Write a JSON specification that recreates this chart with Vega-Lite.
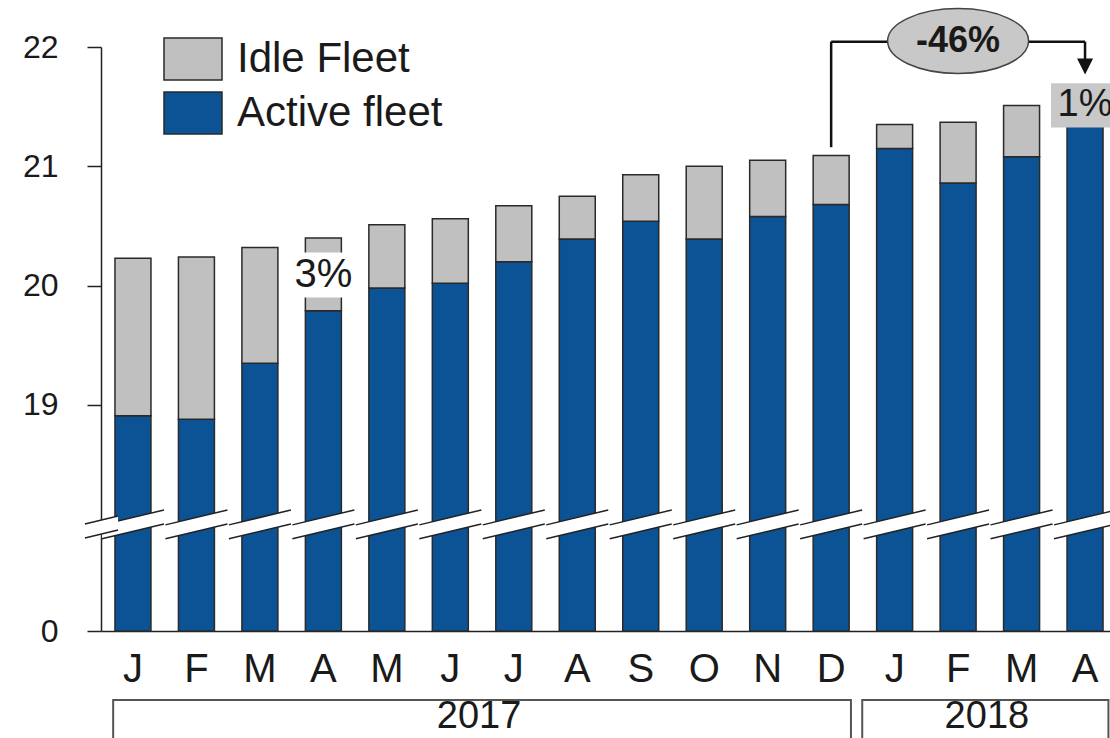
{
  "$schema": "https://vega.github.io/schema/vega-lite/v6.json",
  "autosize": {"type": "none"},
  "width": 1009,
  "height": 584,
  "padding": {"left": 101, "top": 47, "right": 0, "bottom": 107},
  "background": "white",
  "config": {
    "view": {"stroke": null},
    "font": "Liberation Sans",
    "axis": {"grid": false}
  },
  "datasets": {
    "fleet": [
      {"key": "2017-01", "active": 18.91, "total": 20.23},
      {"key": "2017-02", "active": 18.88, "total": 20.24},
      {"key": "2017-03", "active": 19.35, "total": 20.32},
      {"key": "2017-04", "active": 19.79, "total": 20.40},
      {"key": "2017-05", "active": 19.98, "total": 20.51},
      {"key": "2017-06", "active": 20.02, "total": 20.56},
      {"key": "2017-07", "active": 20.20, "total": 20.67},
      {"key": "2017-08", "active": 20.39, "total": 20.75},
      {"key": "2017-09", "active": 20.54, "total": 20.93},
      {"key": "2017-10", "active": 20.39, "total": 21.00},
      {"key": "2017-11", "active": 20.58, "total": 21.05},
      {"key": "2017-12", "active": 20.68, "total": 21.09},
      {"key": "2018-01", "active": 21.15, "total": 21.35},
      {"key": "2018-02", "active": 20.86, "total": 21.37},
      {"key": "2018-03", "active": 21.08, "total": 21.51},
      {"key": "2018-04", "active": 21.34, "total": 21.37}
    ],
    "years": [
      {"year": "2017", "start": "2017-01", "end": "2017-12", "mid": "2017-06"},
      {"year": "2018", "start": "2018-01", "end": "2018-04", "mid": "2018-02"}
    ],
    "note": [{"note": "annotation"}]
  },
  "layer": [
    {
      "data": {"name": "fleet"},
      "mark": {"type": "bar", "stroke": "#2a2a2a", "strokeWidth": 1.5},
      "encoding": {
        "x": {
          "field": "key", "type": "ordinal", "title": null,
          "scale": {
            "domain": ["2017-01","2017-02","2017-03","2017-04","2017-05","2017-06","2017-07","2017-08","2017-09","2017-10","2017-11","2017-12","2018-01","2018-02","2018-03","2018-04"],
            "range": [0, 1016], "paddingInner": 0.433, "paddingOuter": 0.22
          },
          "axis": {
            "title": null, "ticks": false, "tickSize": 0, "labelAngle": 0,
            "labelFontSize": 40, "labelPadding": 18, "labelColor": "#1a1a1a",
            "domainColor": "#222", "domainWidth": 1.5,
            "labelExpr": "['J','F','M','A','M','J','J','A','S','O','N','D'][toNumber(slice(datum.value, 5)) - 1]"
          }
        },
        "y": {
          "field": "active", "type": "quantitative", "title": null,
          "scale": {"domain": [0, 18, 22], "range": [584, 477.3, 0], "nice": false, "zero": false},
          "axis": {
            "title": null, "values": [0, 19, 20, 21, 22], "format": "d",
            "labelFontSize": 32, "labelPadding": 29, "labelColor": "#1a1a1a",
            "tickSize": 14, "tickColor": "#222", "tickWidth": 1.5,
            "domainColor": "#222", "domainWidth": 1.5
          }
        },
        "y2": {"datum": 0},
        "color": {
          "datum": "Active fleet",
          "scale": {"domain": ["Idle Fleet", "Active fleet"], "range": ["#c0c0c0", "#0b5394"]},
          "legend": {
            "title": null, "orient": "none", "legendX": 62, "legendY": -18,
            "padding": 0, "rowPadding": 0,
            "symbolType": "M-1,-0.72H1V0.72H-1Z", "symbolSize": 3364,
            "symbolStrokeColor": "#333", "symbolStrokeWidth": 1.5, "symbolOpacity": 1,
            "labelFontSize": 42, "labelOffset": 14, "labelColor": "#1a1a1a", "labelLimit": 400
          }
        }
      }
    },
    {
      "data": {"name": "fleet"},
      "mark": {"type": "bar", "stroke": "#2a2a2a", "strokeWidth": 1.5},
      "encoding": {
        "x": {"field": "key", "type": "ordinal", "title": null},
        "y": {"field": "total", "type": "quantitative", "title": null},
        "y2": {"field": "active"},
        "color": {"datum": "Idle Fleet"}
      }
    },
    {
      "data": {"name": "fleet"},
      "mark": {"type": "point", "shape": "M-1,0.015L1,-0.465L1,-0.015L-1,0.465Z", "size": 3844, "filled": true, "color": "white", "opacity": 1, "strokeWidth": 0},
      "encoding": {
        "x": {"field": "key", "type": "ordinal", "title": null},
        "y": {"datum": 17.98}
      }
    },
    {
      "data": {"name": "fleet"},
      "mark": {"type": "point", "shape": "M-1,0.015L1,-0.465M-1,0.465L1,-0.015", "size": 3844, "filled": false, "stroke": "#222", "strokeWidth": 1.5, "opacity": 1},
      "encoding": {
        "x": {"field": "key", "type": "ordinal", "title": null},
        "y": {"datum": 17.98}
      }
    },
    {
      "data": {"name": "note"},
      "mark": {"type": "point", "shape": "M-1.55,-0.013L-0.48,-0.27L-0.48,0.18L-1.55,0.437Z", "size": 3844, "filled": true, "color": "white", "opacity": 1, "strokeWidth": 0},
      "encoding": {
        "x": {"datum": "2017-01"},
        "y": {"datum": 17.98}
      }
    },
    {
      "data": {"name": "note"},
      "mark": {"type": "point", "shape": "M-1.55,-0.013L-0.48,-0.27M-1.55,0.437L-0.48,0.18", "size": 3844, "filled": false, "stroke": "#222", "strokeWidth": 1.5, "opacity": 1},
      "encoding": {
        "x": {"datum": "2017-01"},
        "y": {"datum": 17.98}
      }
    },
    {
      "data": {"name": "note"},
      "mark": {"type": "point", "shape": "M-1,-0.75H1V0.75H-1Z", "size": 3600, "filled": true, "color": "white", "opacity": 1, "strokeWidth": 0},
      "encoding": {
        "x": {"datum": "2017-04"},
        "y": {"datum": 20.09}
      }
    },
    {
      "data": {"name": "note"},
      "mark": {"type": "text", "fontSize": 40, "color": "#1a1a1a", "baseline": "middle", "align": "center"},
      "encoding": {
        "x": {"datum": "2017-04"},
        "y": {"datum": 20.09},
        "text": {"value": "3%"}
      }
    },
    {
      "data": {"name": "note"},
      "mark": {"type": "point", "shape": "M-1,-0.65H1V0.65H-1Z", "size": 4624, "filled": true, "color": "#c8c8c8", "opacity": 1, "strokeWidth": 0},
      "encoding": {
        "x": {"datum": "2018-04"},
        "y": {"datum": 21.51}
      }
    },
    {
      "data": {"name": "note"},
      "mark": {"type": "text", "fontSize": 38, "color": "#1a1a1a", "baseline": "middle", "align": "center"},
      "encoding": {
        "x": {"datum": "2018-04"},
        "y": {"datum": 21.51},
        "text": {"value": "1%"}
      }
    },
    {
      "data": {"name": "note"},
      "mark": {"type": "rule", "color": "#111", "strokeWidth": 2.5},
      "encoding": {
        "x": {"datum": "2017-12"},
        "y": {"datum": 21.16},
        "y2": {"datum": 22.045}
      }
    },
    {
      "data": {"name": "note"},
      "mark": {"type": "rule", "color": "#111", "strokeWidth": 2.5},
      "encoding": {
        "x": {"datum": "2017-12"},
        "x2": {"datum": "2018-04"},
        "y": {"datum": 22.045}
      }
    },
    {
      "data": {"name": "note"},
      "mark": {"type": "rule", "color": "#111", "strokeWidth": 2.5},
      "encoding": {
        "x": {"datum": "2018-04"},
        "y": {"datum": 22.045},
        "y2": {"datum": 21.9}
      }
    },
    {
      "data": {"name": "note"},
      "mark": {"type": "point", "shape": "M-1,-1L1,-1L0,1Z", "size": 256, "filled": true, "color": "#111", "opacity": 1},
      "encoding": {
        "x": {"datum": "2018-04"},
        "y": {"datum": 21.837}
      }
    },
    {
      "data": {"name": "note"},
      "mark": {"type": "point", "shape": "M-1,0C-1,-0.254 -0.552,-0.46 0,-0.46C0.552,-0.46 1,-0.254 1,0C1,0.254 0.552,0.46 0,0.46C-0.552,0.46 -1,0.254 -1,0Z", "size": 19881, "filled": true, "fill": "#c8c8c8", "stroke": "#444", "strokeWidth": 1.5, "opacity": 1},
      "encoding": {
        "x": {"datum": "2018-02"},
        "y": {"datum": 22.05}
      }
    },
    {
      "data": {"name": "note"},
      "mark": {"type": "text", "fontSize": 36, "fontWeight": "bold", "color": "#1a1a1a", "baseline": "middle", "align": "center"},
      "encoding": {
        "x": {"datum": "2018-02"},
        "y": {"datum": 22.05},
        "text": {"value": "-46%"}
      }
    },
    {
      "data": {"name": "years"},
      "transform": [{"filter": "datum.year == '2017'"}],
      "mark": {"type": "rect", "filled": false, "stroke": "#555", "strokeWidth": 2},
      "encoding": {
        "x": {"field": "start", "type": "ordinal", "title": null, "bandPosition": -0.05},
        "x2": {"field": "end", "bandPosition": 1.05},
        "y": {"datum": -11.64},
        "y2": {"datum": -20}
      }
    },
    {
      "data": {"name": "years"},
      "transform": [{"filter": "datum.year == '2018'"}],
      "mark": {"type": "rect", "filled": false, "stroke": "#555", "strokeWidth": 2},
      "encoding": {
        "x": {"field": "start", "type": "ordinal", "title": null, "bandPosition": -0.4},
        "x2": {"field": "end", "bandPosition": 1.15},
        "y": {"datum": -11.64},
        "y2": {"datum": -20}
      }
    },
    {
      "data": {"name": "years"},
      "mark": {"type": "text", "fontSize": 38, "color": "#1a1a1a", "baseline": "middle", "align": "center"},
      "encoding": {
        "x": {"field": "mid", "type": "ordinal", "title": null, "bandPosition": 1.3},
        "y": {"datum": -14.55},
        "text": {"field": "year"}
      }
    }
  ]
}
